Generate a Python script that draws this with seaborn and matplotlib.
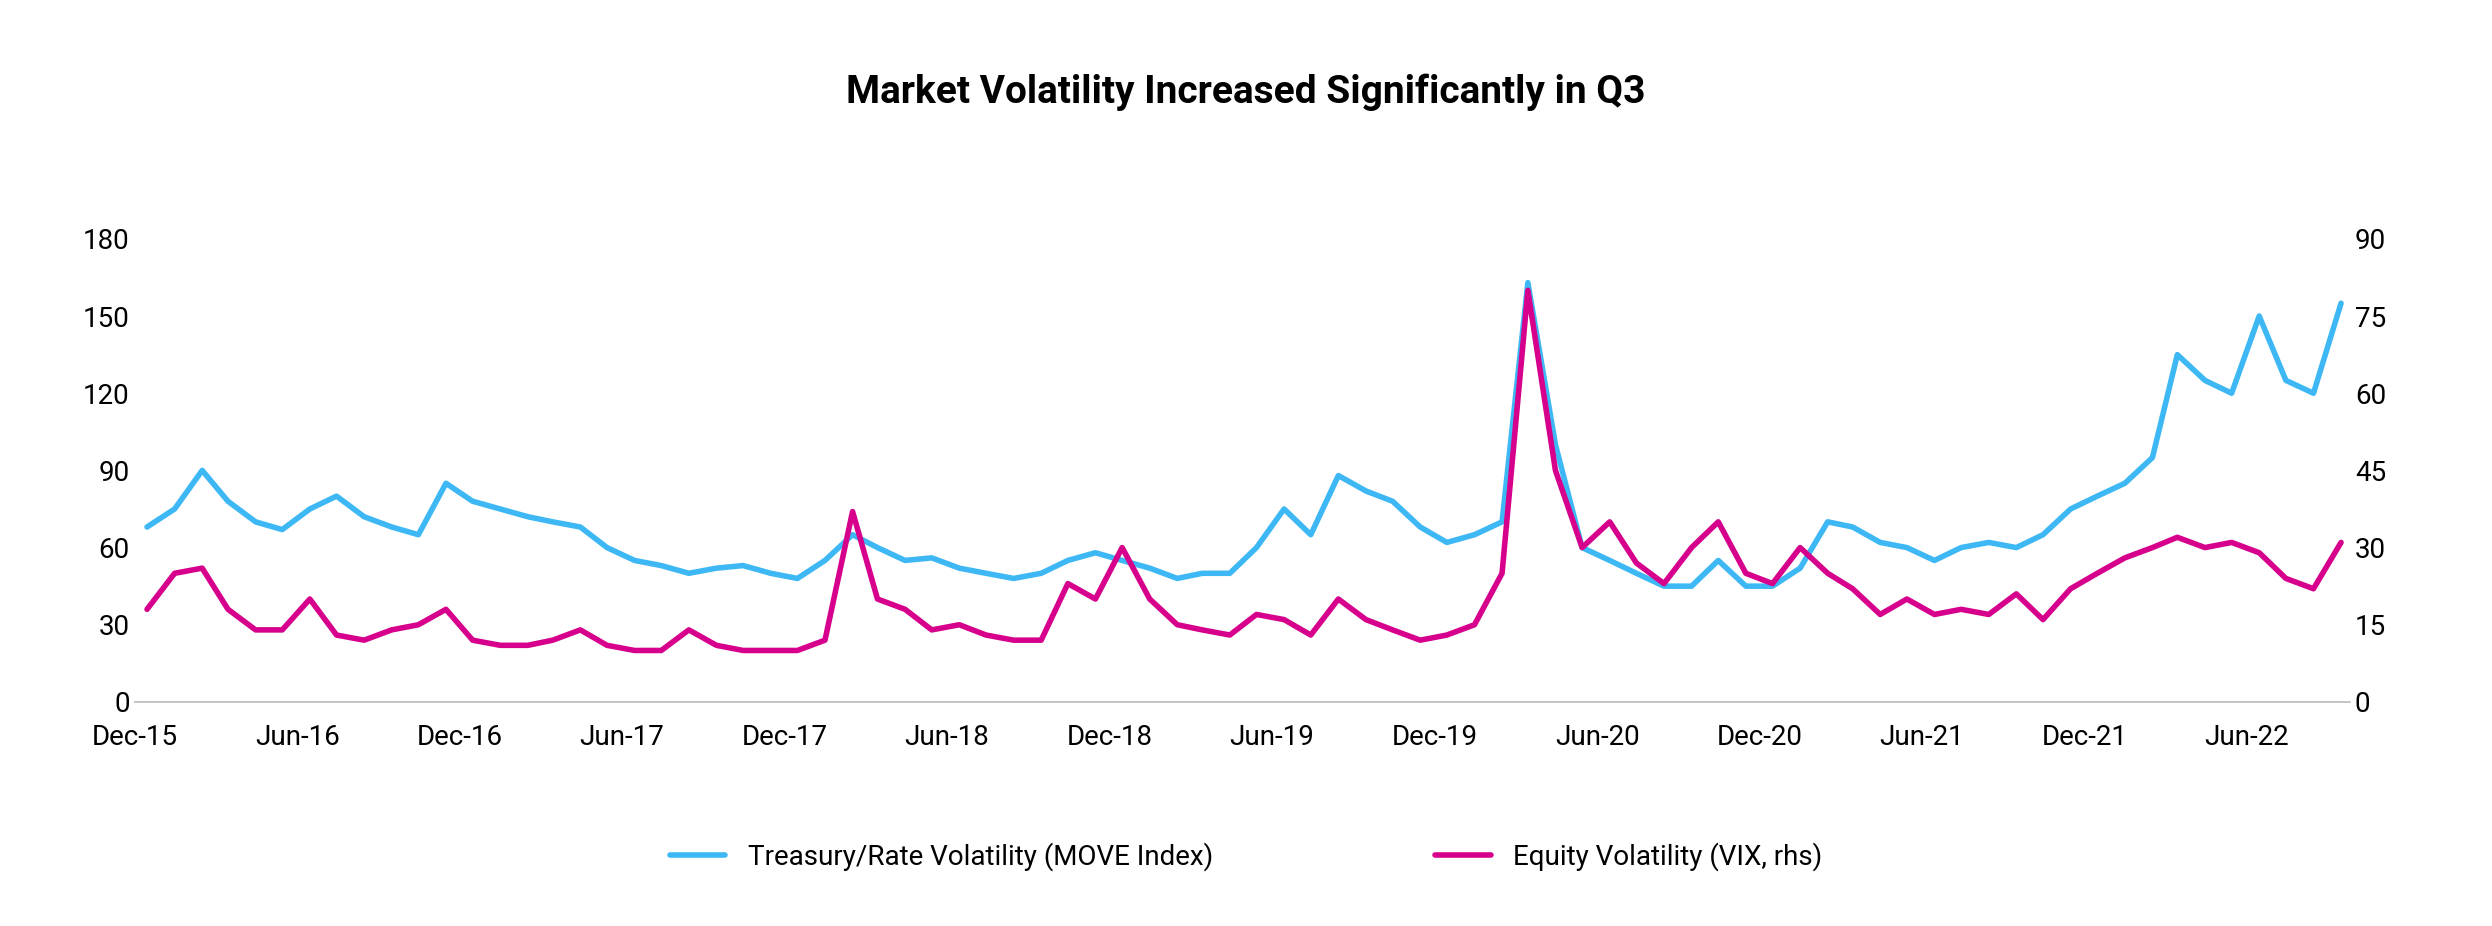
import matplotlib
matplotlib.use("Agg")
import matplotlib.pyplot as plt
import seaborn as sns
import pandas as pd

dates = pd.date_range("2015-12-01", "2022-09-01", freq="MS") + pd.Timedelta(days=14)
move = [68,75,90,78,70,67,75,80,72,68,65,85,78,75,72,70,68,60,55,53,50,52,53,50,48,55,65,60,55,56,52,50,48,50,55,58,55,52,48,50,50,60,75,65,88,82,78,68,62,65,70,163,100,60,55,50,45,45,55,45,45,52,70,68,62,60,55,60,62,60,65,75,80,85,95,135,125,120,150,125,120,155]
vix = [18,25,26,18,14,14,20,13,12,14,15,18,12,11,11,12,14,11,10,10,14,11,10,10,10,12,37,20,18,14,15,13,12,12,23,20,30,20,15,14,13,17,16,13,20,16,14,12,13,15,25,80,45,30,35,27,23,30,35,25,23,30,25,22,17,20,17,18,17,21,16,22,25,28,30,32,30,31,29,24,22,31]
tick_dates = pd.date_range("2015-12-01", "2022-06-01", freq="6MS")
tick_labels = [d.strftime("%b-%y") for d in tick_dates]

sns.set_theme(style="white")
plt.rcParams['font.family'] = ['Roboto', 'DejaVu Sans']
df = pd.DataFrame({"date": dates, "move": move, "vix": vix})

fig = plt.figure(figsize=(24.92, 9.26), dpi=100)
ax = fig.add_axes([0.054, 0.242, 0.889, 0.50])
ax2 = ax.twinx()
blue, mag = "#3DB8F5", "#D6008C"
sns.lineplot(data=df, x="date", y="move", ax=ax, color=blue, lw=4, label="Treasury/Rate Volatility (MOVE Index)", legend=False)
sns.lineplot(data=df, x="date", y="vix", ax=ax2, color=mag, lw=4, label="Equity Volatility (VIX, rhs)", legend=False)
ax.set_ylim(0, 180); ax2.set_ylim(0, 90)
ax.set_yticks(range(0, 181, 30)); ax2.set_yticks(range(0, 91, 15))
ax.set_xlim(pd.Timestamp("2015-12-01"), pd.Timestamp("2022-09-25"))
ax.set_xticks(tick_dates); ax.set_xticklabels(tick_labels)
for a in (ax, ax2):
    for s in a.spines.values(): s.set_visible(False)
    a.set_xlabel(""); a.set_ylabel("")
    a.tick_params(labelsize=20, colors="black", length=0)
ax.spines["bottom"].set_visible(True); ax.spines["bottom"].set_color("#BBBBBB")
ax.tick_params(axis="x", length=8, color="#BBBBBB", pad=8)
fig.text(0.5, 0.9, "Market Volatility Increased Significantly in Q3", ha="center", va="center", fontsize=28, fontweight="bold", color="black")
h1, l1 = ax.get_legend_handles_labels(); h2, l2 = ax2.get_legend_handles_labels()
leg = fig.legend(h1 + h2, l1 + l2, loc="center", bbox_to_anchor=(0.5, 0.075), ncol=2, frameon=False, fontsize=20, columnspacing=8, handlelength=2)
for t in leg.get_texts(): t.set_color("black")
fig.savefig("out.png", dpi=100)
